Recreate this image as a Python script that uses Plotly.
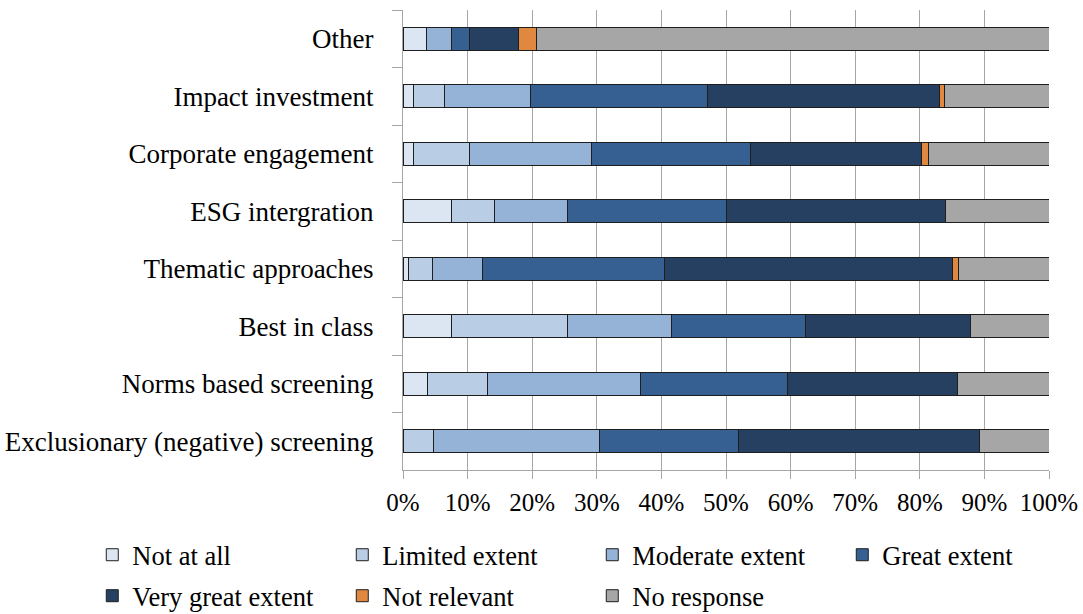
import plotly.graph_objects as go

# categories, top to bottom as shown in the chart
categories = [
    "Other",
    "Impact investment",
    "Corporate engagement",
    "ESG intergration",
    "Thematic approaches",
    "Best in class",
    "Norms based screening",
    "Exclusionary (negative) screening",
]

# shares in percent, same order as categories
not_at_all = [3.7, 1.7, 1.7, 7.5, 0.8, 7.5, 3.8, 0]
limited_extent = [0, 4.8, 8.6, 6.6, 3.8, 17.9, 9.3, 4.7]
moderate_extent = [3.8, 13.3, 18.9, 11.3, 7.7, 16.1, 23.6, 25.7]
great_extent = [2.8, 27.4, 24.6, 24.6, 28.2, 20.8, 22.8, 21.6]
very_great_extent = [7.6, 35.9, 26.4, 34.0, 44.6, 25.5, 26.4, 37.3]
not_relevant = [2.8, 0.8, 1.1, 0, 0.9, 0, 0, 0]
no_response = [79.3, 16.1, 18.7, 16.0, 14.0, 12.2, 14.1, 10.7]

series = [
    ("Not at all", not_at_all, "#dce6f2", "legend"),
    ("Limited extent", limited_extent, "#b9cde5", "legend"),
    ("Moderate extent", moderate_extent, "#95b3d7", "legend"),
    ("Great extent", great_extent, "#366092", "legend"),
    ("Very great extent", very_great_extent, "#254061", "legend2"),
    ("Not relevant", not_relevant, "#e0883f", "legend2"),
    ("No response", no_response, "#a6a6a6", "legend2"),
]

font = "Liberation Serif, Times New Roman, serif"

fig = go.Figure()
for name, vals, col, leg in series:
    fig.add_trace(go.Bar(
        y=categories, x=vals, name=name, orientation="h",
        marker=dict(color=col, line=dict(color="#1e1e1e", width=1)),
        width=0.4, legend=leg,
    ))

leg_common = dict(
    orientation="h", traceorder="normal",
    x=-0.481, xanchor="left", yanchor="top",
    entrywidth=205, entrywidthmode="pixels",
    font=dict(size=26.5), itemwidth=30,
    bgcolor="rgba(0,0,0,0)",
)

fig.update_layout(
    width=1083, height=614,
    barmode="stack",
    plot_bgcolor="white", paper_bgcolor="white",
    margin=dict(l=403, r=34, t=10, b=144, autoexpand=False),
    font=dict(family=font, size=27, color="black"),
    showlegend=True,
    legend=dict(leg_common, y=-0.1326),
    legend2=dict(leg_common, y=-0.2217),
)
fig.update_xaxes(
    range=[0, 100], dtick=10, ticksuffix="%",
    showgrid=True, gridcolor="#a6a6a6", gridwidth=1,
    showline=True, linecolor="#a6a6a6", linewidth=1,
    ticks="outside", ticklen=8, tickcolor="#a6a6a6",
    tickfont=dict(size=25), zeroline=False,
    automargin=False, ticklabelstandoff=2,
)
fig.update_yaxes(
    categoryorder="array", categoryarray=categories,
    range=[7.5, -0.5], tickson="boundaries",
    showgrid=False, showline=True, linecolor="#a6a6a6", linewidth=1,
    ticks="outside", ticklen=10, tickcolor="#a6a6a6",
    ticklabelstandoff=23, automargin=False,
)

# drop the default page margin so the figure sits at the window corner
fig.write_html("out.html", config={"displayModeBar": False},
               post_script="document.body.style.margin='0';")
